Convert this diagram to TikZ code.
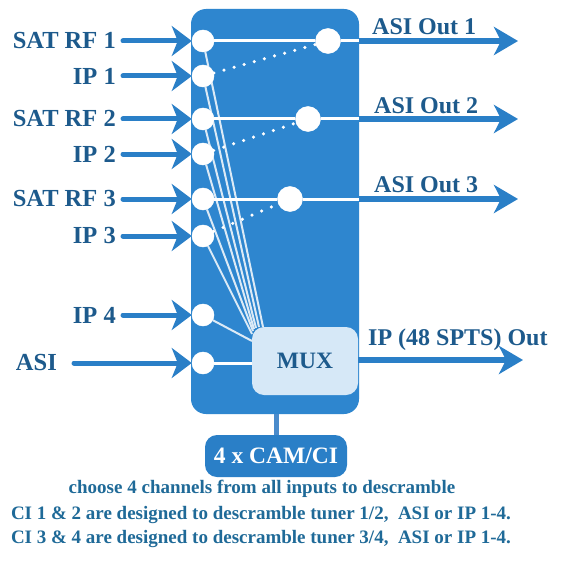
\documentclass[tikz,border=0pt]{standalone}
\usepackage{fontspec}
\setmainfont{Liberation Serif}
\usetikzlibrary{arrows.meta}
\definecolor{boxblue}{HTML}{2E86CF}
\definecolor{arrblue}{HTML}{2A7FC7}
\definecolor{lblblue}{HTML}{1D5A8C}
\definecolor{muxfill}{HTML}{D6E8F7}
\definecolor{fanline}{HTML}{DCEAF6}
\definecolor{txtblue}{HTML}{1F6A98}
\definecolor{linkblue}{HTML}{4A8BCB}
\begin{document}
\begin{tikzpicture}[x=1pt,y=-1pt,
  port/.style={circle,fill=white,draw=fanline,line width=0.5pt,minimum size=22pt,inner sep=0pt},
  oport/.style={circle,fill=white,draw=fanline,line width=0.5pt,minimum size=25pt,inner sep=0pt},
  lbl/.style={font=\fontsize{24.5}{26}\selectfont\bfseries,text=lblblue,inner sep=0pt},
  olbl/.style={font=\fontsize{24}{26}\selectfont\bfseries,text=lblblue,inner sep=0pt},
  inarrow/.style={draw=arrblue,line width=5pt,line cap=round,-{Stealth[length=20pt,width=30pt,inset=6pt]}},
  outarrow/.style={draw=arrblue,line width=5.5pt,-{Stealth[length=24pt,width=28pt,inset=7pt]}},
  wline/.style={draw=white,line width=3pt},
  fan/.style={draw=fanline,line width=2pt},
  dotline/.style={draw=white,line width=3.5pt,line cap=round,dash pattern=on 0pt off 10.5pt},
  bottomtxt/.style={font=\fontsize{19}{21}\selectfont\bfseries,text=txtblue,inner sep=0pt}
]
\useasboundingbox (0,0) rectangle (572,583);
\fill[white] (0,0) rectangle (572,583);

% main box
\node[fill=boxblue,rounded corners=15pt,minimum width=168pt,minimum height=405pt,inner sep=0pt] (box) at (275,211.5) {};

% MUX
\node[fill=muxfill,rounded corners=12pt,minimum width=106pt,minimum height=68pt,inner sep=0pt,
      font=\fontsize{23.5}{25}\selectfont\bfseries,text=lblblue] (mux) at (305,361) {MUX};

% fan line end points
\coordinate (m1) at (263,327);
\coordinate (m2) at (259,327);
\coordinate (m3) at (256,328);
\coordinate (m4) at (254,329);
\coordinate (m5) at (253,331);
\coordinate (m6) at (252,334);
\coordinate (m7) at (252,341);

% input ports
\node[port] (i1) at (203,41) {};
\node[port] (i2) at (203,76) {};
\node[port] (i3) at (203,119) {};
\node[port] (i4) at (203,154) {};
\node[port] (i5) at (203,199) {};
\node[port] (i6) at (203,236) {};
\node[port] (i7) at (203,315) {};
\node[port] (i8) at (203,363) {};

\draw[fan] (i1) -- (m1);
\draw[fan] (i2) -- (m2);
\draw[fan] (i3) -- (m3);
\draw[fan] (i4) -- (m4);
\draw[fan] (i5) -- (m5);
\draw[fan] (i6) -- (m6);
\draw[fan] (i7) -- (m7);
\draw[wline] (i8) -- (mux.west |- i8);

% output ports
\node[oport] (o1) at (328,41) {};
\node[oport] (o2) at (308,119) {};
\node[oport] (o3) at (290,199) {};

\draw[wline] (i1) -- (o1);
\draw[wline] (o1) -- (o1 -| box.east);
\draw[wline] (i3) -- (o2);
\draw[wline] (o2) -- (o2 -| box.east);
\draw[wline] (i5) -- (o3);
\draw[wline] (o3) -- (o3 -| box.east);

\draw[dotline] (i2) -- (o1);
\draw[dotline] (i4) -- (o2);
\draw[dotline] (i6) -- (o3);

% redraw ports on top
\foreach \p in {i1,i2,i3,i4,i5,i6,i7,i8}{\fill[white] (\p) circle (11pt);}
\foreach \p in {o1,o2,o3}{\fill[white] (\p) circle (12.5pt);}

% input labels
\node[lbl,anchor=east] (l1) at (116,41) {SAT RF 1};
\node[lbl,anchor=east] (l2) at (116,76) {IP 1};
\node[lbl,anchor=east] (l3) at (116,119) {SAT RF 2};
\node[lbl,anchor=east] (l4) at (116,154) {IP 2};
\node[lbl,anchor=east] (l5) at (116,199) {SAT RF 3};
\node[lbl,anchor=east] (l6) at (116,236) {IP 3};
\node[lbl,anchor=east] (l7) at (116,315) {IP 4};
\node[lbl,anchor=east] (l8) at (57,363) {ASI};

\draw[inarrow] ([xshift=7pt]l1.east) -- (i1.west);
\draw[inarrow] ([xshift=7pt]l2.east) -- (i2.west);
\draw[inarrow] ([xshift=7pt]l3.east) -- (i3.west);
\draw[inarrow] ([xshift=7pt]l4.east) -- (i4.west);
\draw[inarrow] ([xshift=7pt]l5.east) -- (i5.west);
\draw[inarrow] ([xshift=7pt]l6.east) -- (i6.west);
\draw[inarrow] ([xshift=7pt]l7.east) -- (i7.west);
\draw[inarrow] ([xshift=17pt]l8.east) -- (i8.west);

% outputs
\coordinate (e1) at (518,41);
\coordinate (e2) at (518,119);
\coordinate (e3) at (518,199);
\coordinate (e4) at (523,360);
\draw[outarrow] (o1 -| box.east) -- (e1);
\draw[outarrow] (o2 -| box.east) -- (e2);
\draw[outarrow] (o3 -| box.east) -- (e3);
\draw[outarrow] (mux.east |- e4) -- (e4);

\node[olbl,anchor=west] (t1) at (372,27) {ASI Out 1};
\node[olbl,anchor=west] (t2) at (374,106) {ASI Out 2};
\node[olbl,anchor=west] (t3) at (374,185) {ASI Out 3};
\node[olbl,anchor=west] (t4) at (368,340) {IP (48 SPTS) Out};

% CAM/CI
\node[fill=arrblue,rounded corners=12pt,minimum width=142pt,minimum height=42pt,inner sep=0pt,
      font=\fontsize{23.5}{25}\selectfont\bfseries,text=white] (cam) at (276,456) {4 x CAM/CI};
\draw[draw=linkblue,line width=5pt] (cam.north) -- (cam.north |- box.south);

% bottom text
\node[bottomtxt] (b1) at (262,489) {choose 4 channels from all inputs to descramble};
\node[bottomtxt] (b2) at (261,515) {CI 1 \& 2 are designed to descramble tuner 1/2,\ \ ASI or IP 1-4.};
\node[bottomtxt] (b3) at (261,539) {CI 3 \& 4 are designed to descramble tuner 3/4,\ \ ASI or IP 1-4.};
\end{tikzpicture}
\end{document}
